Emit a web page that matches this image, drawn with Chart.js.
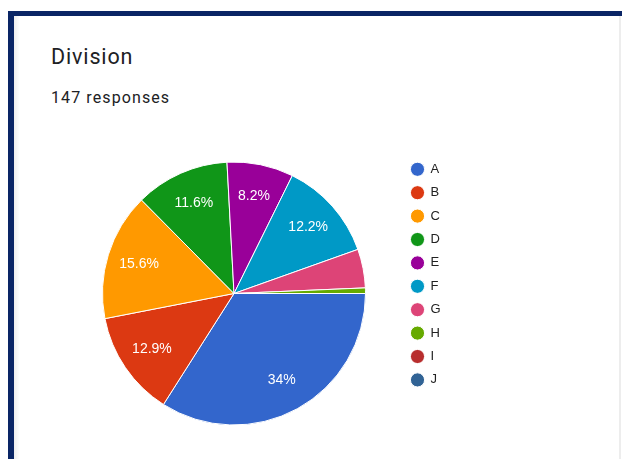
<!DOCTYPE html>
<html>
<head>
<meta charset="utf-8">
<script src="https://cdn.jsdelivr.net/npm/chart.js@4.4.1/dist/chart.umd.min.js"></script>
<style>
  html, body { margin: 0; padding: 0; background: #ffffff; width: 622px; height: 459px; overflow: hidden; }
  .card { position: absolute; left: 8px; top: 11px; width: 630px; height: 460px; background: #ffffff;
          border-top: 5px solid #0a2565; border-left: 6px solid #0a2565; box-sizing: border-box; }
  .shade { position: absolute; left: 14px; top: 16px; width: 6px; height: 443px;
           background: linear-gradient(to right, rgba(0,0,0,0.07), rgba(0,0,0,0)); }
  .edge { position: absolute; left: 619px; top: 16px; width: 2px; height: 443px; background: #ededed; }
  .title { position: absolute; left: 51px; top: 46.4px; font-family: Roboto, "Noto Sans", sans-serif;
           font-size: 21.5px; line-height: 1; letter-spacing: 0.85px; color: #202124; white-space: nowrap; }
  .sub { position: absolute; left: 51px; top: 89.8px; font-family: Roboto, "Noto Sans", sans-serif;
         font-size: 16px; line-height: 1; letter-spacing: 1.1px; color: #202124; white-space: nowrap; }
  canvas { position: absolute; left: 0; top: 0; }
</style>
</head>
<body>
<div class="card"></div>
<div class="shade"></div>
<div class="edge"></div>
<div class="title">Division</div>
<div class="sub">147 responses</div>
<canvas id="c" width="622" height="459" style="width:622px;height:459px"></canvas>
<script>
// ---- data ----
const categories = ['A', 'B', 'C', 'D', 'E', 'F', 'G', 'H', 'I', 'J'];
const responses = [50, 19, 23, 17, 12, 18, 7, 1, 0, 0];
const sliceColors = ['#3366cc', '#dc3912', '#ff9900', '#109618', '#990099', '#0099c6', '#dd4477', '#66aa00', '#b82e2e', '#316395'];

function fmtPct(p) {
  const r = Math.round(p * 10) / 10;
  return (Number.isInteger(r) ? r.toFixed(0) : r.toFixed(1)) + '%';
}

const sliceLabels = {
  id: 'sliceLabels',
  afterDatasetsDraw(chart) {
    const ctx = chart.ctx;
    const meta = chart.getDatasetMeta(0);
    const vals = chart.data.datasets[0].data;
    const total = vals.reduce((a, b) => a + b, 0);
    ctx.save();
    ctx.font = '14px "Liberation Sans", Arial, sans-serif';
    ctx.fillStyle = '#ffffff';
    ctx.textAlign = 'center';
    ctx.textBaseline = 'middle';
    meta.data.forEach((arc, i) => {
      const pct = vals[i] / total * 100;
      if (pct < 5) return;
      const p = arc.getProps(['x', 'y', 'startAngle', 'endAngle', 'outerRadius'], true);
      const mid = (p.startAngle + p.endAngle) / 2;
      const r = p.outerRadius * 0.755;
      ctx.fillText(fmtPct(pct), p.x + Math.cos(mid) * r, p.y + Math.sin(mid) * r);
    });
    ctx.restore();
  }
};

const legendPlace = {
  id: 'legendPlace',
  afterLayout(chart) {
    const lg = chart.legend;
    if (!lg) return;
    const w = lg.width, h = lg.height;
    lg.left = 400.6; lg.right = 400.6 + w;
    lg.top = 152.4; lg.bottom = 152.4 + h;
  }
};

new Chart(document.getElementById('c'), {
  type: 'pie',
  data: {
    labels: categories,
    datasets: [{
      data: responses,
      backgroundColor: sliceColors,
      borderColor: '#ffffff',
      borderWidth: 1,
      hoverOffset: 0
    }]
  },
  options: {
    responsive: false,
    animation: false,
    rotation: 90,
    layout: { padding: { left: 102, right: 256, top: 161.5, bottom: 33.5 } },
    plugins: {
      tooltip: { enabled: false },
      legend: {
        position: 'chartArea',
        align: 'start',
        labels: {
          usePointStyle: true,
          pointStyle: 'circle',
          boxWidth: 13,
          boxHeight: 10,
          padding: 10.4,
          color: '#222222',
          font: { family: '"Liberation Sans", Arial, sans-serif', size: 13 }
        }
      }
    }
  },
  plugins: [sliceLabels, legendPlace]
});
</script>
</body>
</html>
